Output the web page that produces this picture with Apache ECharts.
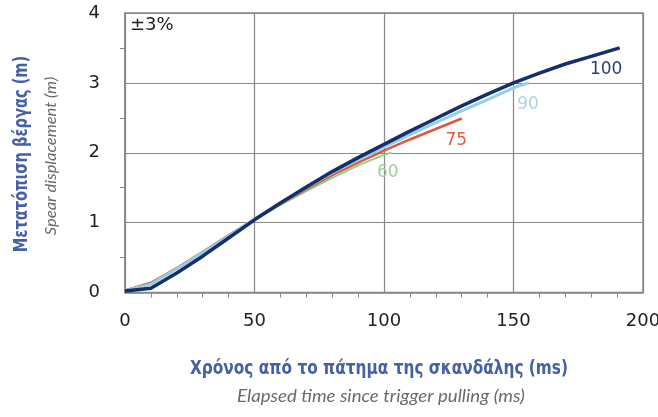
<!DOCTYPE html>
<html><head><meta charset="utf-8">
<script src="https://cdn.jsdelivr.net/npm/echarts@6/dist/echarts.min.js"></script>
<style>html,body{margin:0;padding:0;background:#fff}#c{width:658px;height:417px}</style>
</head><body><div id="c"></div>
<script>
// Data (time in ms, displacement in m)
const xTicks = [0, 50, 100, 150, 200];
const yTicks = [0, 1, 2, 3, 4];
const names = ['60', '75', '90', '100'];
const t60 = [0, 10, 20, 30, 40, 50, 60, 70, 80, 90, 100, 103];
const d60 = [0.03, 0.13, 0.35, 0.58, 0.82, 1.04, 1.25, 1.45, 1.64, 1.82, 1.97, 2.0];
const t75 = [0, 10, 20, 30, 40, 50, 60, 70, 80, 90, 100, 110, 120, 130];
const d75 = [0.03, 0.14, 0.35, 0.58, 0.82, 1.05, 1.27, 1.48, 1.68, 1.86, 2.03, 2.19, 2.34, 2.49];
const t90 = [0, 10, 20, 30, 40, 50, 60, 70, 80, 90, 100, 110, 120, 130, 140, 150, 156];
const d90 = [0.03, 0.12, 0.34, 0.57, 0.81, 1.05, 1.28, 1.50, 1.71, 1.90, 2.08, 2.26, 2.43, 2.60, 2.76, 2.93, 3.0];
const t100 = [0, 10, 20, 30, 40, 50, 60, 70, 80, 90, 100, 110, 120, 130, 140, 150, 160, 170, 180, 191];
const d100 = [0.02, 0.06, 0.28, 0.52, 0.78, 1.04, 1.28, 1.51, 1.73, 1.93, 2.12, 2.31, 2.49, 2.67, 2.84, 3.00, 3.14, 3.27, 3.38, 3.50];

const seriesDefs = [
  {name: names[0], t: t60, d: d60, color: '#93cf8f', lab: '#a2d09c', w: 2, off: [-4, 6]},
  {name: names[1], t: t75, d: d75, color: '#e4553c', lab: '#e05a4c', w: 2.5, off: [-5.5, 8.3]},
  {name: names[2], t: t90, d: d90, color: '#92d0e4', lab: '#a9d6e3', w: 3, off: [-1, 7.5]},
  {name: names[3], t: t100, d: d100, color: '#142f6b', lab: '#2c3f73', w: 3.5, off: [-13.5, 7.3]}
];

const chart = echarts.init(document.getElementById('c'), null, {renderer: 'canvas'});
const tickFont = 'DejaVu Sans, Verdana, sans-serif';
const boldFont = '"Liberation Sans Narrow", "DejaVu Sans Condensed", "DejaVu Sans", sans-serif';
const italFont = 'Lato, "Open Sans", sans-serif';
chart.setOption({
  animation: false,
  grid: {left: 125, right: 15, top: 13, bottom: 124.5, show: true, borderColor: '#888', borderWidth: 1.5,
         outerBoundsMode: 'none', containLabel: false},
  xAxis: {
    type: 'value', min: xTicks[0], max: xTicks[xTicks.length - 1], interval: xTicks[1] - xTicks[0],
    axisLine: {show: true, lineStyle: {color: '#888', width: 1.5}},
    axisTick: {show: false},
    minorTick: {show: true, splitNumber: 5, length: 5, lineStyle: {color: '#888', width: 1}},
    splitLine: {show: true, lineStyle: {color: '#888', width: 1.2}},
    axisLabel: {color: '#222', fontSize: 18, fontFamily: tickFont, margin: 20}
  },
  yAxis: {
    type: 'value', min: yTicks[0], max: yTicks[yTicks.length - 1], interval: yTicks[1] - yTicks[0],
    axisLine: {show: true, lineStyle: {color: '#888', width: 1.5}},
    axisTick: {show: false},
    minorTick: {show: true, splitNumber: 2, length: 5, lineStyle: {color: '#888', width: 1}},
    splitLine: {show: true, lineStyle: {color: '#888', width: 1.2}},
    axisLabel: {color: '#222', fontSize: 18, fontFamily: tickFont, margin: 25}
  },
  series: seriesDefs.map(s => ({
    type: 'line', name: s.name, showSymbol: false, symbol: 'none', silent: true,
    data: s.t.map((x, i) => [x, s.d[i]]),
    lineStyle: {color: s.color, width: s.w},
    markPoint: {
      symbol: 'circle', symbolSize: 1, silent: true,
      itemStyle: {color: 'rgba(0,0,0,0)'},
      label: {show: true, position: 'bottom', distance: 5, offset: s.off, formatter: s.name,
              color: s.lab, fontSize: 17, fontFamily: tickFont},
      data: [{coord: [s.t[s.t.length - 1], s.d[s.d.length - 1]]}]
    }
  })),
  graphic: [
    {type: 'text', left: 130, top: 16, style: {text: '±3%', fontSize: 18, fontFamily: tickFont, fill: '#222'}},
    {type: 'text', x: 379, y: 369, scaleX: 0.853, style: {text: 'Χρόνος από το πάτημα της σκανδάλης (ms)', fontSize: 20, fontWeight: 'bold',
      fontFamily: boldFont, fill: '#4660a8', textAlign: 'center', textVerticalAlign: 'middle'}},
    {type: 'text', x: 381, y: 396, scaleX: 1.066, style: {text: 'Elapsed time since trigger pulling (ms)', fontSize: 17.5, fontStyle: 'italic',
      fontFamily: italFont, fill: '#6a6a6a', textAlign: 'center', textVerticalAlign: 'middle'}},
    {type: 'text', x: 22, y: 154, rotation: Math.PI / 2, scaleX: 0.81, style: {text: 'Μετατόπιση βέργας (m)', fontSize: 20, fontWeight: 'bold',
      fontFamily: boldFont, fill: '#4660a8', textAlign: 'center', textVerticalAlign: 'middle'}},
    {type: 'text', x: 51, y: 156, rotation: Math.PI / 2, scaleX: 1.03, style: {text: 'Spear displacement (m)', fontSize: 16, fontStyle: 'italic',
      fontFamily: italFont, fill: '#6a6a6a', textAlign: 'center', textVerticalAlign: 'middle'}}
  ]
});
</script></body></html>
